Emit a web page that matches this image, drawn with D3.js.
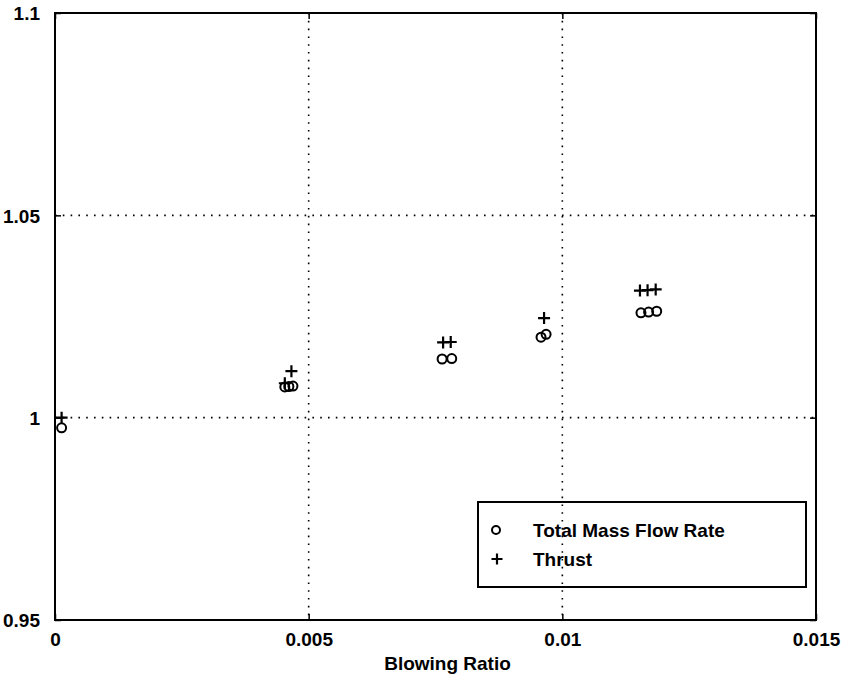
<!DOCTYPE html>
<html>
<head>
<meta charset="utf-8">
<script src="https://cdn.jsdelivr.net/npm/d3@7"></script>
<style>
  html, body { margin: 0; padding: 0; background: #fff; }
  svg { display: block; }
  text { font-family: "Liberation Sans", Arial, Helvetica, sans-serif; font-weight: bold; fill: #000; }
</style>
</head>
<body>
<svg id="chart" width="845" height="677"></svg>
<script>
// Normalised total mass flow rate and thrust versus blowing ratio
const massX   = [0.00013, 0.00453, 0.00461, 0.00469, 0.00763, 0.00782, 0.00958, 0.00968, 0.01155, 0.01170, 0.01186];
const massY   = [0.9975, 1.0076, 1.0077, 1.0078, 1.0145, 1.0146, 1.0199, 1.0206, 1.0259, 1.0261, 1.0263];
const thrustX = [0.00013, 0.00453, 0.00466, 0.00765, 0.00780, 0.00964, 0.01153, 0.01168, 0.01184];
const thrustY = [1.0000, 1.0085, 1.0115, 1.0186, 1.0187, 1.0246, 1.0314, 1.0315, 1.0317];

const xTicks = [0, 0.005, 0.01, 0.015];
const xTickLabels = ["0", "0.005", "0.01", "0.015"];
const yTicks = [0.95, 1, 1.05, 1.1];
const yTickLabels = ["0.95", "1", "1.05", "1.1"];
const legendLabels = ["Total Mass Flow Rate", "Thrust"];
const xTitle = "Blowing Ratio";

const margin = { left: 55, top: 13, right: 29, bottom: 57 };
const W = 845, H = 677;
const FONT = "19px";
const svg = d3.select("#chart");

const x = d3.scaleLinear().domain([0, 0.015]).range([margin.left, W - margin.right]);
const y = d3.scaleLinear().domain([0.95, 1.1]).range([H - margin.bottom, margin.top]);

const [x0, x1] = x.range();
const [y0, y1] = y.range();

// dotted grid at interior ticks
const grid = svg.append("g").attr("stroke", "#000").attr("stroke-width", 1.6)
  .attr("stroke-dasharray", "1.6,6.2").attr("fill", "none");
grid.selectAll("line.vx").data(xTicks.filter(t => t > 0 && t < 0.015)).join("line")
  .attr("x1", d => x(d)).attr("x2", d => x(d)).attr("y1", y1).attr("y2", y0);
grid.selectAll("line.hy").data(yTicks.filter(t => t > 0.95 && t < 1.1)).join("line")
  .attr("x1", x0).attr("x2", x1).attr("y1", d => y(d)).attr("y2", d => y(d));

// axes with inward ticks
const xAxis = d3.axisBottom(x).tickValues(xTicks).tickFormat((d, i) => xTickLabels[i]).tickSizeInner(-6).tickSizeOuter(0).tickPadding(13);
const yAxis = d3.axisLeft(y).tickValues(yTicks).tickFormat((d, i) => yTickLabels[i]).tickSizeInner(-6).tickSizeOuter(0).tickPadding(15);

const gx = svg.append("g").attr("transform", `translate(0,${y0})`).call(xAxis);
const gy = svg.append("g").attr("transform", `translate(${x0},0)`).call(yAxis);
[gx, gy].forEach(g => {
  g.select(".domain").remove();
  g.selectAll(".tick line").attr("stroke", "#000").attr("stroke-width", 1.5);
  g.selectAll(".tick text").style("font-size", FONT).style("font-family", "'Liberation Sans', Arial, sans-serif").style("font-weight", "bold");
});
gy.selectAll(".tick text").attr("dy", "0.36em");

// ticks on the top and right edges
svg.append("g").attr("transform", `translate(0,${y1})`)
  .call(d3.axisTop(x).tickValues(xTicks).tickSizeInner(-6).tickSizeOuter(0).tickFormat(""))
  .call(g => { g.select(".domain").remove(); g.selectAll("line").attr("stroke-width", 1.5); });
svg.append("g").attr("transform", `translate(${x1},0)`)
  .call(d3.axisRight(y).tickValues(yTicks).tickSizeInner(-6).tickSizeOuter(0).tickFormat(""))
  .call(g => { g.select(".domain").remove(); g.selectAll("line").attr("stroke-width", 1.5); });

// frame
svg.append("rect").attr("x", x0).attr("y", y1).attr("width", x1 - x0).attr("height", y0 - y1)
  .attr("fill", "none").attr("stroke", "#000").attr("stroke-width", 2);

// x-axis title
svg.append("text").attr("x", (x0 + x1) / 2 + 12).attr("y", 670).attr("text-anchor", "middle")
  .style("font-size", FONT).text(xTitle);

// markers
const crossPath = s => `M${-s},0H${s}M0,${-s}V${s}`;
svg.append("g").selectAll("circle").data(massX.map((v, i) => [v, massY[i]])).join("circle")
  .attr("cx", d => x(d[0])).attr("cy", d => y(d[1])).attr("r", 4.5)
  .attr("fill", "none").attr("stroke", "#000").attr("stroke-width", 2);
svg.append("g").selectAll("path").data(thrustX.map((v, i) => [v, thrustY[i]])).join("path")
  .attr("transform", d => `translate(${x(d[0])},${y(d[1])})`).attr("d", crossPath(6))
  .attr("fill", "none").attr("stroke", "#000").attr("stroke-width", 2.2);

// legend
const lg = svg.append("g");
lg.append("rect").attr("x", 478).attr("y", 502).attr("width", 328).attr("height", 85)
  .attr("fill", "none").attr("stroke", "#000").attr("stroke-width", 2);
lg.append("circle").attr("cx", 496).attr("cy", 530).attr("r", 4).attr("fill", "none").attr("stroke", "#000").attr("stroke-width", 2);
lg.append("path").attr("transform", "translate(497,559)").attr("d", crossPath(5.5)).attr("fill", "none").attr("stroke", "#000").attr("stroke-width", 2.2);
lg.selectAll("text").data(legendLabels).join("text")
  .attr("x", 533).attr("y", (d, i) => 537 + i * 29).style("font-size", FONT).text(d => d);
</script>
</body>
</html>
